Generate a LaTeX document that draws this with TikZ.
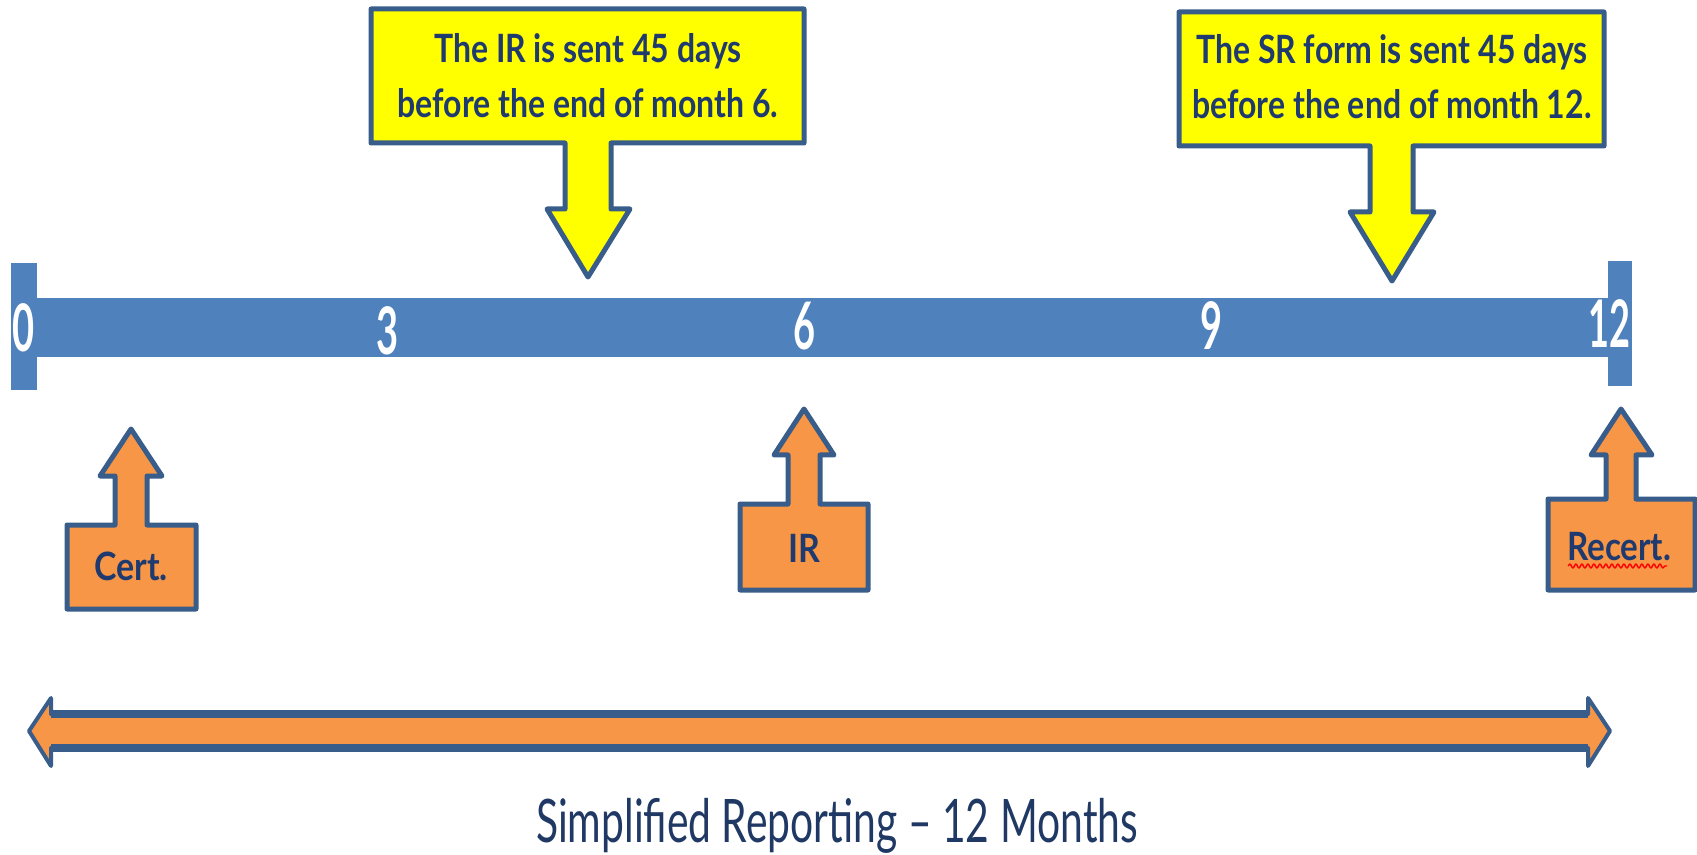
\documentclass[tikz,border=0pt]{standalone}
\usepackage{fontspec}
\usepackage{graphicx}
\setmainfont{Lato}
\usetikzlibrary{decorations.pathmorphing}
\definecolor{barblue}{HTML}{4F81BD}
\definecolor{edge}{HTML}{385D8A}
\definecolor{orng}{HTML}{F79646}
\definecolor{yel}{HTML}{FFFF00}
\definecolor{navy}{HTML}{1F3A6E}
\definecolor{navyb}{HTML}{1F3864}
\begin{document}
\begin{tikzpicture}[x=0.5pt,y=-0.5pt, line join=round,
  callY/.style={draw=edge, fill=yel, line width=2.5pt},
  callO/.style={draw=edge, fill=orng, line width=2.5pt},
  ctext/.style={text=navy, font=\bfseries\fontsize{19.5}{24}\selectfont, inner sep=0pt, anchor=base},
  num/.style={text=white, font=\bfseries\fontsize{32.8}{36}\selectfont, inner sep=0pt, anchor=base}]
\clip (0,0) rectangle (1697,855);
% timeline bar
\fill[barblue] (11,298) rectangle (1613,357);
\fill[barblue] (11,263) rectangle (37,390);
\fill[barblue] (1608,261) rectangle (1632,386);
\node[num] (n0) at (24,352) {\scalebox{0.58}[1]{0}};
\node[num] (n3) at (388,355) {\scalebox{0.58}[1]{3}};
\node[num] (n6) at (805,350) {\scalebox{0.58}[1]{6}};
\node[num] (n9) at (1212,350) {\scalebox{0.58}[1]{9}};
\node[num] (n12) at (1609,348) {\scalebox{0.55}[1]{12}};
% yellow callouts
\draw[callY] (371,9) -- (804,9) -- (804,143) -- (611,143) -- (611,209) -- (630,209) -- (588,277) -- (547,209) -- (565,209) -- (565,143) -- (371,143) -- cycle;
\draw[callY] (1179,12) -- (1604,12) -- (1604,146) -- (1413,146) -- (1413,212) -- (1434,212) -- (1392,281) -- (1350,212) -- (1370,212) -- (1370,146) -- (1179,146) -- cycle;
\node[ctext] (c1a) at (588,63) {\scalebox{0.82}[1]{The IR is sent 45 days}};
\node[ctext] (c1b) at (588,118) {\scalebox{0.82}[1]{before the end of month 6.}};
\node[ctext] (c2a) at (1392,64) {\scalebox{0.82}[1]{The SR form is sent 45 days}};
\node[ctext] (c2b) at (1392,119) {\scalebox{0.82}[1]{before the end of month 12.}};
% orange callouts
\draw[callO] (67,609) -- (67,525) -- (115,525) -- (115,476) -- (100,476) -- (131,429) -- (162,476) -- (147,476) -- (147,525) -- (196,525) -- (196,609) -- cycle;
\draw[callO] (740,590) -- (740,504) -- (788,504) -- (788,455) -- (774,455) -- (804,409) -- (834,455) -- (820,455) -- (820,504) -- (868,504) -- (868,590) -- cycle;
\draw[callO] (1548,590) -- (1548,499) -- (1606,499) -- (1606,455) -- (1591,455) -- (1621,409) -- (1652,455) -- (1636,455) -- (1636,499) -- (1695,499) -- (1695,590) -- cycle;
\node[ctext] (cert) at (131,580) {\scalebox{0.87}[1]{Cert.}};
\node[ctext] (ir) at (804,562) {\scalebox{0.87}[1]{IR}};
\node[ctext] (rc) at (1619,560) {\scalebox{0.85}[1]{Recert.}};
\draw[red, line width=0.7pt, decorate, decoration={snake, amplitude=1pt, segment length=3pt}] (1568,566) -- (1667,566);
% double arrow
\draw[fill=orng, draw=edge, line width=2pt] (51,714) -- (1588,714) -- (1588,698) -- (1610,731) -- (1588,766) -- (1588,748) -- (51,748) -- (51,766) -- (29,731) -- (51,698) -- cycle;
\draw[edge, line width=4pt] (51,714) -- (1588,714);
\draw[edge, line width=4pt] (51,748) -- (1588,748);
\node[text=navyb, font=\fontsize{30}{36}\selectfont, inner sep=0pt, anchor=base] (title) at (837,842) {\scalebox{0.68}[1]{Simplified Reporting – 12 Months}};
\end{tikzpicture}
\end{document}
